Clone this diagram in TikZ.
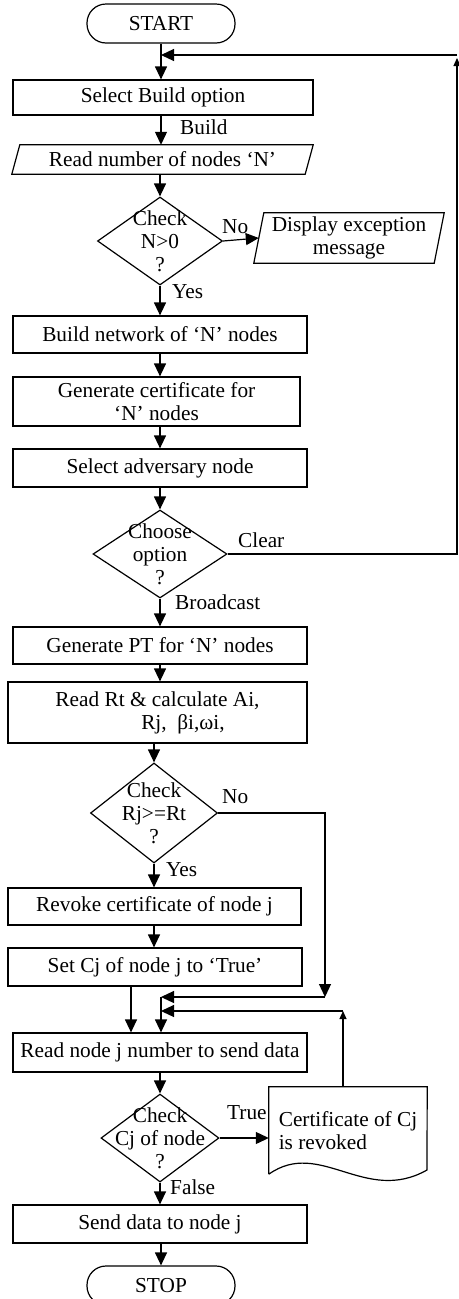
\documentclass[tikz,border=0pt]{standalone}
\usepackage{fontspec}
\setmainfont{Liberation Serif}
\usetikzlibrary{shapes.geometric,arrows.meta}
\begin{document}
\begin{tikzpicture}[x=1pt,y=-1pt,
  every node/.style={font=\fontsize{21.3}{23}\selectfont},
  box/.style={draw, line width=1.2pt, rectangle, inner sep=0pt, align=center},
  term/.style={draw, line width=1.2pt, rectangle, rounded corners=19pt, minimum width=148pt, minimum height=39pt, inner sep=0pt},
  dec/.style={draw, line width=1.2pt, diamond, inner sep=0pt},
  ghost/.style={rectangle, inner sep=0pt, align=center},
  lab/.style={anchor=west, inner sep=0pt},
  conn/.style={line width=1.2pt},
  arr/.style={line width=1.2pt, -{Triangle[width=12pt,length=13pt]}},
  sarr/.style={line width=1.2pt, -{Triangle[width=7pt,length=8pt]}},
]
\useasboundingbox (0,0) rectangle (458,1299);
\fill[white] (0,0) rectangle (458,1299);

% nodes
\node[term] (start) at (161,23.5) {START};
\node[box, minimum width=300pt, minimum height=35pt] (sel) at (163,97.5) {Select Build option};
\node[ghost, minimum width=301pt, minimum height=29pt] (rd) at (162.5,159.5) {Read number of nodes `N'};
\draw[conn] ([xshift=8pt]rd.north west) -- (rd.north east) -- ([xshift=-8pt]rd.south east) -- (rd.south west) -- cycle;
\node[dec, minimum width=125pt, minimum height=88pt, label={[align=center]center:{Check\\N>0\\?}}] (d1) at (160,241) {};
\node[ghost, minimum width=190pt, minimum height=50pt] (disp) at (349,238) {Display exception\\message};
\draw[conn] ([xshift=10pt]disp.north west) -- (disp.north east) -- ([xshift=-10pt]disp.south east) -- (disp.south west) -- cycle;
\node[box, minimum width=294pt, minimum height=37pt] (bn) at (160,334.5) {Build network of `N' nodes};
\node[box, minimum width=287pt, minimum height=49pt] (gc) at (156.5,401.5) {Generate certificate for\\`N' nodes};
\node[box, minimum width=294pt, minimum height=38pt] (sa) at (160,468) {Select adversary node};
\node[dec, minimum width=134pt, minimum height=88pt, label={[align=center]center:{Choose\\option\\?}}] (d2) at (160,554) {};
\node[box, minimum width=294pt, minimum height=37pt] (pt) at (160,645.5) {Generate PT for `N' nodes};
\node[box, minimum width=299pt, minimum height=61pt] (rr) at (157.5,712.5) {Read Rt \& calculate Ai,\\\hspace*{51pt}Rj,\ \ βi,ωi,};
\node[dec, minimum width=127pt, minimum height=100pt, label={[align=center]center:{Check\\Rj>=Rt\\?}}] (d3) at (154,813) {};
\node[box, minimum width=293pt, minimum height=37pt] (rv) at (154.5,906.5) {Revoke certificate of node j};
\node[box, minimum width=294pt, minimum height=38pt] (sc) at (155,967) {Set Cj of node j to `True'};
\node[box, minimum width=294pt, minimum height=39pt] (rn) at (160,1052.5) {Read node j number to send data};
\node[dec, minimum width=118pt, minimum height=88pt, label={[align=center]center:{Check\\Cj of node\\?}}] (d4) at (160,1138) {};
\node[rectangle, inner sep=0pt, align=left, minimum width=158pt, minimum height=87pt] (cert) at (348,1130.5) {Certificate of Cj\\is revoked};
\draw[conn] (cert.south west) -- (cert.north west) -- (cert.north east) -- (427,1170) .. controls (365,1205) and (320,1138) .. (cert.south west);
\node[box, minimum width=294pt, minimum height=38pt] (sd) at (160,1224) {Send data to node j};
\node[term] (stop) at (161,1285.5) {STOP};

% labels
\node[lab] (lbuild) at (180,127) {Build};
\node[lab] (lno1) at (222,227) {No};
\node[lab] (lyes1) at (172,292) {Yes};
\node[lab] (lclear) at (238,540) {Clear};
\node[lab] (lbroad) at (175,602) {Broadcast};
\node[lab] (lno2) at (222,797) {No};
\node[lab] (lyes2) at (166,870) {Yes};
\node[lab] (ltrue) at (227,1113) {True};
\node[lab] (lfalse) at (170,1187) {False};

% coordinates
\coordinate (mainTop) at (161,55);
\coordinate (loopR) at (457,55);
\coordinate (noR) at (325,997);
\coordinate (j1) at (161,997);
\coordinate (j2) at (161,1011);
\coordinate (certUp) at (343,1011);
\coordinate (scx) at (131,0);

% connectors
\draw[arr] (start.south) -- (start.south |- sel.north);
\draw[sarr] (d2.east) -| ([yshift=-3pt]loopR);
\draw[arr] (loopR) -- (mainTop);
\draw[arr] (sel.south -| start.south) -- (start.south |- rd.north);
\draw[arr] (d1.north |- rd.south) -- (d1.north);
\draw[arr] (d1.east) -- ([xshift=5pt]disp.west);
\draw[arr] (d1.south) -- (d1.south |- bn.north);
\draw[arr] (bn.south) -- (bn.south |- gc.north);
\draw[arr] (bn.south |- gc.south) -- (bn.south |- sa.north);
\draw[arr] (sa.south) -- (d2.north);
\draw[arr] (d2.south) -- (d2.south |- pt.north);
\draw[arr] (pt.south) -- (pt.south |- rr.north);
\draw[arr] (d3.north |- rr.south) -- (d3.north);
\draw[arr] (d3.south) -- (d3.south |- rv.north);
\draw[arr] (d3.east) -| (noR);
\draw[arr] (noR) -- (j1);
\draw[arr] (d3.south |- rv.south) -- (d3.south |- sc.north);
\draw[arr] (sc.south -| scx) -- (rn.north -| scx);
\draw[sarr] (certUp |- cert.north) -- (certUp);
\draw[arr] (certUp) -- (j2);
\draw[arr] (j1) -- (j1 |- rn.north);
\draw[arr] (rn.south) -- (d4.north);
\draw[arr] (d4.east) -- (d4.east -| cert.west);
\draw[arr] (d4.south) -- (d4.south |- sd.north);
\draw[arr] (sd.south -| stop.north) -- (stop.north);
\end{tikzpicture}
\end{document}
